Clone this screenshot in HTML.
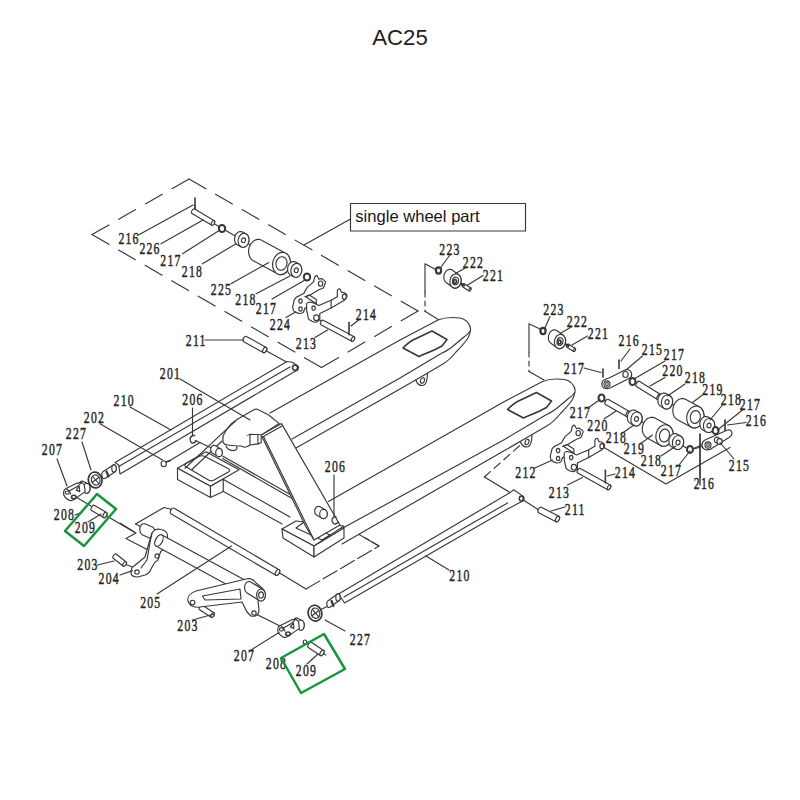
<!DOCTYPE html>
<html><head><meta charset="utf-8"><style>
html,body{margin:0;padding:0;background:#fff;width:800px;height:800px;overflow:hidden}
svg{display:block}
.d path,.d ellipse,.d circle,.d rect{stroke:#383838;stroke-width:1.15;fill:none;stroke-linejoin:round;stroke-linecap:round}
.d text{font-family:"Liberation Serif",serif;font-size:16.3px;fill:#262626;stroke:#262626;stroke-width:0.45}
</style></head><body>
<svg width="800" height="800" viewBox="0 0 800 800">
<rect width="800" height="800" fill="#fff"/>
<text x="400" y="44.6" text-anchor="middle" font-family="'Liberation Sans', sans-serif" font-size="22.2" fill="#1e1e1e">AC25</text>
<g class="d">
<path d="M92,234.6 L189,179" style="stroke-dasharray:19.5 11.27;"/>
<path d="M92,234.6 L321.5,367.5" style="stroke-dasharray:19.5 11.2;"/>
<path d="M189,179 L418,311" style="stroke-dasharray:19.5 11.1;"/>
<path d="M418,311 L321.5,367.5" style="stroke-dasharray:19.5 11.27;"/>
<path d="M304,245 L350.5,219"/>
<rect x="350.5" y="203.5" width="175" height="27.5" stroke-width="1.25"/>
<text x="355.3" y="222.4" textLength="124.4" lengthAdjust="spacingAndGlyphs" style="font-family:'Liberation Sans',sans-serif;font-size:16.5px;fill:#161616;stroke:none">single wheel part</text>
<path d="M437.5,270.5 L425,263.75 L425,292"/>
<path d="M425,292 L425,311.25" style="stroke-dasharray:5 4;"/>
<path d="M425,311.25 L439,320"/>
<path d="M542,330 L529,323.75 L529,352"/>
<path d="M529,352 L529,371.5" style="stroke-dasharray:5 4;"/>
<path d="M529,371.5 L544,380"/>
<path d="M213,223 L300,274"/>
<path d="M195,211 L195,205"/>
<path d="M316,318 L353,339"/>
<path d="M604,384 L627,374"/>
<path d="M632.5,381.5 L700,420"/>
<path d="M601.5,398 L690,450 L727,434"/>
<path d="M690,450 L708,445"/>
<path d="M135.5,524 L164,507.5 L172,509.5"/>
<path d="M135.5,524 L141.5,527"/>
<path d="M126,538.5 L136,533 L120,523"/>
<path d="M126,538.5 L150,551"/>
<path d="M278,572 L306,589"/>
<path d="M306,589 L379,546" style="stroke-dasharray:16 4;"/>
<path d="M379,546 L344,526" style="stroke-dasharray:16 4;"/>
<path d="M76,497 L91,506"/>
<path d="M105,515 L134,532"/>
<path d="M254,613 L280,626"/>
<path d="M322,653 L326,655"/>
<path d="M329,605.5 L320,610"/>
<path d="M124.6,564 L132.5,567"/>
<path d="M212.5,615 L214,616"/>
<path d="M170,460.5 L200,442.5"/>
<path d="M195.5,440.5 L219.5,451.75"/>
<path d="M334,520 L379,546" style="stroke-dasharray:7 4;"/>
<path d="M264.7,350 L292,365"/>
<path d="M523.4,500 L540,510.75"/>
<path d="M517,496.75 L484.4,477"/>
<path d="M484.4,477 L526,440" style="stroke-dasharray:8 5;"/>
<path d="M222.5,456 L300,500"/>
<path d="M222.5,458.5 L300,503"/>
<path d="M519.5,431.5 C518.5,442.5 522.5,447.0 526.5,447.0 C530.5,447.0 532.5,442.5 532.0,427.5" style="fill:#fff;"/>
<ellipse cx="527.0" cy="442.0" rx="1.9" ry="2.8" style="fill:none;" transform="rotate(20 527.0 442.0)"/>
<path d="M328.5,501.5 L504.5,401.5 L542.5,381.5 C548.5,379.0 556.5,378.5 564.5,379.5 C569.5,380.5 573.5,383.5 575.0,389.5 L575.0,391.5 C574.5,395.5 573.5,397.5 572.5,399.5 C568.5,405.5 564.5,409.5 560.5,413.5 C556.5,418.5 552.5,422.5 547.5,425.5 L530.5,435.5 L504.5,450.5 L342,544 L342,528.5 Z" style="fill:#fff;stroke:none"/>
<path d="M328.5,501.5 L504.5,401.5 L542.5,381.5 C548.5,379.0 556.5,378.5 564.5,379.5 C569.5,380.5 573.5,383.5 575.0,389.5 L575.0,391.5 C574.5,395.5 573.5,397.5 572.5,399.5 C568.5,405.5 564.5,409.5 560.5,413.5 C556.5,418.5 552.5,422.5 547.5,425.5 L530.5,435.5 L504.5,450.5 L342,544" style="fill:none;"/>
<path d="M574.8,392.5 C572.5,395.5 570.5,397.5 568.5,398.5 L556.5,408.5 C552.5,411.5 549.5,413.5 546.5,414.5 L504.5,439.5 L342,528.5" style="fill:none;"/>
<path d="M507.5,409.5 C510.5,406.5 513.5,403.5 517.5,401.5 L536.5,392.5 L551.5,401.0 L546.5,407.5 C539.5,411.5 531.5,414.5 523.5,418.0 Z" style="fill:none;stroke-width:1.6;"/>
<path d="M415.0,370.0 C414.0,381.0 418.0,385.5 422.0,385.5 C426.0,385.5 428.0,381.0 427.5,366.0" style="fill:#fff;"/>
<ellipse cx="422.5" cy="380.5" rx="1.9" ry="2.8" style="fill:none;" transform="rotate(20 422.5 380.5)"/>
<path d="M270,413 L400.0,340.0 L438.0,320.0 C444.0,317.5 452.0,317.0 460.0,318.0 C465.0,319.0 469.0,322.0 470.5,328.0 L470.5,330.0 C470.0,334.0 469.0,336.0 468.0,338.0 C464.0,344.0 460.0,348.0 456.0,352.0 C452.0,357.0 448.0,361.0 443.0,364.0 L426.0,374.0 L400.0,389.0 L296,448 L292,439 Z" style="fill:#fff;stroke:none"/>
<path d="M270,413 L400.0,340.0 L438.0,320.0 C444.0,317.5 452.0,317.0 460.0,318.0 C465.0,319.0 469.0,322.0 470.5,328.0 L470.5,330.0 C470.0,334.0 469.0,336.0 468.0,338.0 C464.0,344.0 460.0,348.0 456.0,352.0 C452.0,357.0 448.0,361.0 443.0,364.0 L426.0,374.0 L400.0,389.0 L296,448" style="fill:none;"/>
<path d="M470.3,331.0 C468.0,334.0 466.0,336.0 464.0,337.0 L452.0,347.0 C448.0,350.0 445.0,352.0 442.0,353.0 L400.0,378.0 L292,439" style="fill:none;"/>
<path d="M403.0,348.0 C406.0,345.0 409.0,342.0 413.0,340.0 L432.0,331.0 L447.0,339.5 L442.0,346.0 C435.0,350.0 427.0,353.0 419.0,356.5 Z" style="fill:none;stroke-width:1.6;"/>
<path d="M177.5,468.25 L206,451.75 L239,469.75 L210.5,486.25Z" style="fill:#fff;"/>
<path d="M177.5,468.25 L210.5,486.25 L210.5,497.5 L177.5,479.5Z" style="fill:#fff;"/>
<path d="M210.5,486.25 L223.25,479 L223.25,491.5 L210.5,497.5Z" style="fill:#fff;"/>
<path d="M185.5,466.5 C184,465.5 184.5,464.5 186,463.5 L199,456.5 C201,455.5 203,455.5 205,456.5 L228,468.5 C230,469.5 230,471 228.5,472 L214,480 C212,481 210,481 208.5,480 Z" style="fill:none;"/>
<path d="M223.5,479.5 L290,517"/>
<path d="M223.5,491.5 L282,524"/>
<path d="M282,529 L296,521 L344,526 L314,546Z" style="fill:#fff;"/>
<path d="M282,529 L314,546 L314,557 L283,538Z" style="fill:#fff;"/>
<path d="M314,546 L344,528 L344,538 L314,557Z" style="fill:#fff;"/>
<path d="M296,528 L304,522 L330,535 L322,540 Z" style="fill:none;"/>
<path d="M261.2,434.9 L281.5,423.6 L340,525 L314,540 L306,527Z" style="fill:#fff;"/>
<path d="M263.5,436.5 L314,540"/>
<path d="M262.5,437 L282.5,425.8"/>
<path d="M223,436 C226,430 230,424 235.4,420.8 L238.7,418.6 L253.4,410 C255,409 257,409 258,409.6 L269,415.2 L279.2,423.6 L261.2,434.9 L250,434.3 C246,436 244,438 242,439.4 C239,441 236,441.6 233,441.6 C229,441 225,439 223,437 Z" style="fill:#fff;"/>
<path d="M223,437 L223,442.7 C224,444 226,445 227.5,445 L237.6,446 L241,446 L244.4,447.2 C247,447 249,446 250,445 L257.9,443.9 L261.2,442.7 L261.2,434.9" style="fill:#fff;"/>
<path d="M250,434.3 L250,444.4"/>
<path d="M257.9,434.3 L257.9,444"/>
<path d="M226,446 C227,449 230,450.6 234,450.6 C237,450 237.5,448 236.5,447" style="fill:#fff;"/>
<path d="M185,468.25 L221.9,433.7"/>
<path d="M191.75,469.75 L222,441"/>
<path d="M221.9,433.7 L235.4,421"/>
<path d="M210.7,449.5 L210.7,449.1 L210.8,448.8 L210.8,448.4 L210.9,448.1 L211.0,447.7 L211.1,447.4 L211.3,447.1 L211.5,446.8 L211.7,446.5 L211.9,446.3 L212.1,446.1 L212.3,445.9 L212.6,445.7 L212.9,445.6 L213.2,445.4 L213.4,445.4 L213.7,445.3 L214.0,445.3 L214.3,445.3 L214.6,445.4 L214.8,445.4 L215.1,445.6 L215.4,445.7 L220.4,448.7 L220.7,448.9 L220.9,449.1 L221.1,449.3 L221.3,449.5 L221.5,449.8 L221.7,450.1 L221.9,450.4 L222.0,450.7 L222.1,451.1 L222.2,451.4 L222.2,451.8 L222.3,452.1 L222.3,452.5 L222.3,452.9 L222.2,453.2 L222.2,453.6 L222.1,453.9 L222.0,454.3 L221.9,454.6 L221.7,454.9 L221.5,455.2 L221.3,455.5 L221.1,455.7 L220.9,455.9 L220.7,456.1 L220.4,456.3 L220.1,456.4 L219.8,456.6 L219.6,456.6 L219.3,456.7 L219.0,456.7 L218.7,456.7 L218.4,456.6 L218.2,456.6 L217.9,456.4 L217.6,456.3 L212.6,453.3 L212.3,453.1 L212.1,452.9 L211.9,452.7 L211.7,452.5 L211.5,452.2 L211.3,451.9 L211.1,451.6 L211.0,451.3 L210.9,450.9 L210.8,450.6 L210.8,450.2 L210.7,449.9Z" style="fill:#fff;"/>
<ellipse cx="219" cy="452.5" rx="3.3" ry="4.2" style="fill:#fff;"/>
<path d="M314.7,511.0 L314.7,510.6 L314.8,510.2 L314.8,509.8 L314.9,509.4 L315.1,509.1 L315.2,508.7 L315.4,508.4 L315.6,508.0 L315.8,507.8 L316.1,507.5 L316.3,507.2 L316.6,507.0 L316.9,506.8 L317.2,506.7 L317.5,506.6 L317.8,506.5 L318.2,506.4 L318.5,506.4 L318.8,506.4 L319.2,506.5 L319.5,506.6 L319.8,506.7 L320.1,506.8 L325.1,509.8 L325.4,510.0 L325.7,510.2 L325.9,510.5 L326.2,510.8 L326.4,511.0 L326.6,511.4 L326.8,511.7 L326.9,512.1 L327.1,512.4 L327.2,512.8 L327.2,513.2 L327.3,513.6 L327.3,514.0 L327.3,514.4 L327.2,514.8 L327.2,515.2 L327.1,515.6 L326.9,515.9 L326.8,516.3 L326.6,516.6 L326.4,517.0 L326.2,517.2 L325.9,517.5 L325.7,517.8 L325.4,518.0 L325.1,518.2 L324.8,518.3 L324.5,518.4 L324.2,518.5 L323.8,518.6 L323.5,518.6 L323.2,518.6 L322.8,518.5 L322.5,518.4 L322.2,518.3 L321.9,518.2 L316.9,515.2 L316.6,515.0 L316.3,514.8 L316.1,514.5 L315.8,514.2 L315.6,514.0 L315.4,513.6 L315.2,513.3 L315.1,512.9 L314.9,512.6 L314.8,512.2 L314.8,511.8 L314.7,511.4Z" style="fill:#fff;"/>
<ellipse cx="323.5" cy="514" rx="3.8" ry="4.6" style="fill:#fff;"/>
<path d="M194.5,435.5 C190,435 189,440 191,442 C192,444 195,443 196,441" style="fill:none;stroke-width:1.4;"/>
<path d="M336,517 C332,516 331,521 333,523 C334,525 337,524 338,522" style="fill:none;stroke-width:1.4;"/>
<path d="M115,462.5 L287,361.5 L292.5,362.3 L298.6,366.6 L297.8,370 L294,372 L283.7,378 L120,474 L118.75,465 Z" style="fill:#fff;"/>
<path d="M118.75,466.5 L276,375"/>
<path d="M276,375 L290,367"/>
<ellipse cx="295" cy="367.6" rx="2.5" ry="2.6" style="fill:none;stroke-width:1.5;"/>
<path d="M101.8,475.0 L101.8,474.7 L101.8,474.4 L101.9,474.1 L101.9,473.8 L102.0,473.5 L102.1,473.2 L102.2,472.9 L102.3,472.7 L102.4,472.4 L102.6,472.2 L102.7,472.1 L102.9,471.9 L103.1,471.7 L103.2,471.6 L113.2,465.1 L113.4,465.0 L113.6,464.9 L113.8,464.9 L114.0,464.9 L114.2,464.9 L114.4,464.9 L114.6,465.0 L114.8,465.1 L114.9,465.2 L115.1,465.4 L115.3,465.6 L115.4,465.7 L115.6,465.9 L115.7,466.2 L115.8,466.4 L115.9,466.7 L116.0,467.0 L116.1,467.3 L116.1,467.6 L116.2,467.9 L116.2,468.2 L116.2,468.5 L116.2,468.8 L116.2,469.1 L116.1,469.4 L116.1,469.7 L116.0,470.0 L115.9,470.3 L115.8,470.6 L115.7,470.8 L115.6,471.1 L115.4,471.3 L115.3,471.4 L115.1,471.6 L114.9,471.8 L114.8,471.9 L104.8,478.4 L104.6,478.5 L104.4,478.6 L104.2,478.6 L104.0,478.6 L103.8,478.6 L103.6,478.6 L103.4,478.5 L103.2,478.4 L103.1,478.3 L102.9,478.1 L102.7,477.9 L102.6,477.8 L102.4,477.6 L102.3,477.3 L102.2,477.1 L102.1,476.8 L102.0,476.5 L101.9,476.2 L101.9,475.9 L101.8,475.6 L101.8,475.3Z" style="fill:#fff;"/>
<ellipse cx="114" cy="468.5" rx="2.2" ry="3.6" style="fill:#fff;"/>
<path d="M106.5,471.5 L108.5,476.5" style="fill:none;stroke-width:2.2;"/>
<path d="M338.5,594 L510.25,492.4 L513.75,489.75 L522.5,495.9 C524,500 522,502 520.75,502 L507.6,509 L344.5,603 Z" style="fill:#fff;"/>
<path d="M344,597 L507.6,502.9"/>
<ellipse cx="521.6" cy="498.5" rx="2.3" ry="2.6" style="fill:none;stroke-width:1.5;"/>
<path d="M326.8,604.0 L326.8,603.7 L326.8,603.4 L326.9,603.1 L326.9,602.8 L327.0,602.5 L327.1,602.2 L327.2,601.9 L327.3,601.7 L327.4,601.5 L327.6,601.2 L327.7,601.0 L327.9,600.9 L328.1,600.7 L337.1,594.2 L337.2,594.1 L337.4,594.0 L337.6,594.0 L337.8,593.9 L338.0,593.9 L338.2,593.9 L338.4,594.0 L338.6,594.0 L338.8,594.1 L338.9,594.2 L339.1,594.4 L339.3,594.5 L339.4,594.7 L339.6,595.0 L339.7,595.2 L339.8,595.4 L339.9,595.7 L340.0,596.0 L340.1,596.3 L340.1,596.6 L340.2,596.9 L340.2,597.2 L340.2,597.5 L340.2,597.8 L340.2,598.1 L340.1,598.4 L340.1,598.7 L340.0,599.0 L339.9,599.3 L339.8,599.6 L339.7,599.8 L339.6,600.0 L339.4,600.3 L339.3,600.5 L339.1,600.6 L338.9,600.8 L329.9,607.3 L329.8,607.4 L329.6,607.5 L329.4,607.5 L329.2,607.6 L329.0,607.6 L328.8,607.6 L328.6,607.5 L328.4,607.5 L328.2,607.4 L328.1,607.3 L327.9,607.1 L327.7,607.0 L327.6,606.8 L327.4,606.5 L327.3,606.3 L327.2,606.1 L327.1,605.8 L327.0,605.5 L326.9,605.2 L326.9,604.9 L326.8,604.6 L326.8,604.3Z" style="fill:#fff;"/>
<ellipse cx="338" cy="597.5" rx="2.2" ry="3.6" style="fill:#fff;"/>
<path d="M331.5,601 L333.5,606" style="fill:none;stroke-width:2.2;"/>
<path d="M243.5,341.6 L263.2,352.6 A1.7,3.0 29.2 0 0 266.2,347.4 L246.5,336.4 A1.7,3.0 29.2 0 0 243.5,341.6Z" style="fill:#fff;"/>
<ellipse cx="264.7" cy="350" rx="1.7" ry="3.0" transform="rotate(29.2 264.7 350)" style="fill:#fff;"/>
<path d="M538.6,512.7 L556.1,521.7 A1.7,3.0 27.2 0 0 558.9,516.3 L541.4,507.3 A1.7,3.0 27.2 0 0 538.6,512.7Z" style="fill:#fff;"/>
<ellipse cx="557.5" cy="519" rx="1.7" ry="3.0" transform="rotate(27.2 557.5 519)" style="fill:#fff;"/>
<path d="M170.9,513.8 L275.9,575.3 A1.8,3.2 30.4 0 0 279.1,569.7 L174.1,508.2 A1.8,3.2 30.4 0 0 170.9,513.8Z" style="fill:#fff;"/>
<ellipse cx="277.5" cy="572.5" rx="1.8" ry="3.2" transform="rotate(30.4 277.5 572.5)" style="fill:#fff;"/>
<path d="M139.8,529.5 L139.8,529.0 L139.9,528.5 L139.9,528.0 L140.1,527.5 L140.2,527.0 L140.4,526.6 L140.6,526.2 L140.8,525.8 L141.0,525.4 L141.3,525.1 L141.6,524.8 L141.9,524.5 L142.2,524.2 L142.6,524.0 L142.9,523.9 L143.3,523.8 L143.6,523.7 L144.0,523.7 L144.4,523.7 L144.7,523.8 L145.1,523.9 L145.4,524.0 L152.4,527.0 L152.8,527.2 L153.1,527.5 L153.4,527.8 L153.7,528.1 L154.0,528.4 L154.2,528.8 L154.4,529.2 L154.6,529.6 L154.8,530.0 L154.9,530.5 L155.1,531.0 L155.1,531.5 L155.2,532.0 L155.2,532.5 L155.2,533.0 L155.1,533.5 L155.1,534.0 L154.9,534.5 L154.8,535.0 L154.6,535.4 L154.4,535.8 L154.2,536.2 L154.0,536.6 L153.7,536.9 L153.4,537.2 L153.1,537.5 L152.8,537.8 L152.4,538.0 L152.1,538.1 L151.7,538.2 L151.4,538.3 L151.0,538.3 L150.6,538.3 L150.3,538.2 L149.9,538.1 L149.6,538.0 L142.6,535.0 L142.2,534.8 L141.9,534.5 L141.6,534.2 L141.3,533.9 L141.0,533.6 L140.8,533.2 L140.6,532.8 L140.4,532.4 L140.2,532.0 L140.1,531.5 L139.9,531.0 L139.9,530.5 L139.8,530.0Z" style="fill:#fff;"/>
<path d="M195,198 L195,210" style="stroke-width:1.6;"/>
<path d="M191.7,213.2 L211.7,225.2 A1.4,2.6 31.0 0 0 214.3,220.8 L194.3,208.8 A1.4,2.6 31.0 0 0 191.7,213.2Z" style="fill:#fff;"/>
<ellipse cx="213" cy="223" rx="1.4" ry="2.6" transform="rotate(31.0 213 223)" style="fill:#fff;"/>
<ellipse cx="222" cy="228.5" rx="3.2" ry="3.6" style="fill:#fff;stroke-width:2.0;"/>
<path d="M234.6,238.8 L234.6,238.2 L234.7,237.6 L234.8,237.0 L235.0,236.4 L235.2,235.8 L235.4,235.3 L235.7,234.7 L236.0,234.2 L236.3,233.8 L236.7,233.3 L237.1,233.0 L237.5,232.6 L237.9,232.3 L238.4,232.1 L238.8,231.9 L239.3,231.7 L239.8,231.6 L240.3,231.6 L240.8,231.6 L241.2,231.6 L241.7,231.7 L242.1,231.9 L242.6,232.1 L246.1,233.9 L246.5,234.1 L246.8,234.4 L247.2,234.8 L247.6,235.2 L247.8,235.6 L248.1,236.1 L248.4,236.6 L248.6,237.1 L248.7,237.7 L248.8,238.2 L248.9,238.8 L248.9,239.4 L248.9,240.0 L248.9,240.6 L248.8,241.2 L248.7,241.8 L248.5,242.4 L248.3,243.0 L248.1,243.5 L247.8,244.1 L247.5,244.6 L247.2,245.0 L246.8,245.4 L246.4,245.8 L246.0,246.2 L245.6,246.5 L245.1,246.7 L244.7,246.9 L244.2,247.1 L243.7,247.2 L243.2,247.2 L242.8,247.2 L242.3,247.2 L241.8,247.1 L241.4,246.9 L240.9,246.7 L237.4,244.9 L237.0,244.7 L236.7,244.3 L236.3,244.0 L235.9,243.6 L235.7,243.2 L235.4,242.7 L235.1,242.2 L234.9,241.7 L234.8,241.1 L234.7,240.6 L234.6,240.0 L234.6,239.4Z" style="fill:#fff;"/>
<ellipse cx="243.5" cy="240.3" rx="5.4" ry="7" style="fill:#fff;" transform="rotate(10 243.5 240.3)"/>
<ellipse cx="243.5" cy="240.3" rx="2" ry="2.4" style="fill:none;" transform="rotate(10 243.5 240.3)"/>
<path d="M248.6,251.6 L248.6,250.6 L248.7,249.6 L248.9,248.7 L249.1,247.7 L249.4,246.8 L249.8,245.9 L250.2,245.0 L250.7,244.2 L251.2,243.4 L251.8,242.7 L252.4,242.1 L253.1,241.5 L253.8,240.9 L254.5,240.5 L255.2,240.1 L256.0,239.8 L256.7,239.6 L257.5,239.4 L258.3,239.4 L259.1,239.4 L259.8,239.5 L260.6,239.8 L261.3,240.0 L262.0,240.4 L286.0,253.4 L286.6,253.8 L287.2,254.3 L287.8,254.9 L288.3,255.6 L288.8,256.3 L289.2,257.1 L289.6,257.9 L289.9,258.7 L290.1,259.6 L290.3,260.5 L290.4,261.5 L290.4,262.4 L290.4,263.4 L290.3,264.4 L290.1,265.3 L289.9,266.3 L289.6,267.2 L289.2,268.1 L288.8,269.0 L288.3,269.8 L287.8,270.6 L287.2,271.3 L286.6,271.9 L285.9,272.5 L285.2,273.1 L284.5,273.5 L283.8,273.9 L283.0,274.2 L282.3,274.4 L281.5,274.6 L280.7,274.6 L279.9,274.6 L279.2,274.5 L278.4,274.2 L277.7,274.0 L277.0,273.6 L253.0,260.6 L252.4,260.2 L251.8,259.7 L251.2,259.1 L250.7,258.4 L250.2,257.7 L249.8,256.9 L249.4,256.1 L249.1,255.3 L248.9,254.4 L248.7,253.5 L248.6,252.5Z" style="fill:#fff;"/>
<ellipse cx="281.5" cy="263.5" rx="8.8" ry="11.2" style="fill:#fff;" transform="rotate(12 281.5 263.5)"/>
<ellipse cx="281.5" cy="263.5" rx="5.5" ry="6.8" style="fill:none;" transform="rotate(12 281.5 263.5)"/>
<path d="M287.6,268.8 L287.6,268.2 L287.7,267.6 L287.8,267.0 L288.0,266.4 L288.2,265.8 L288.4,265.3 L288.7,264.7 L289.0,264.2 L289.3,263.8 L289.7,263.4 L290.1,263.0 L290.5,262.6 L290.9,262.3 L291.4,262.1 L291.9,261.9 L292.3,261.7 L292.8,261.6 L293.3,261.6 L293.8,261.6 L294.2,261.6 L294.7,261.7 L295.1,261.9 L295.6,262.1 L298.9,263.9 L299.3,264.1 L299.6,264.4 L300.0,264.8 L300.4,265.2 L300.6,265.6 L300.9,266.1 L301.2,266.6 L301.4,267.1 L301.5,267.7 L301.6,268.2 L301.7,268.8 L301.8,269.4 L301.8,270.0 L301.7,270.6 L301.6,271.2 L301.5,271.8 L301.3,272.4 L301.1,273.0 L300.9,273.5 L300.6,274.1 L300.3,274.6 L300.0,275.0 L299.6,275.4 L299.2,275.8 L298.8,276.2 L298.4,276.5 L297.9,276.7 L297.4,276.9 L297.0,277.1 L296.5,277.2 L296.0,277.2 L295.6,277.2 L295.1,277.2 L294.6,277.1 L294.2,276.9 L293.8,276.7 L290.4,274.9 L290.0,274.7 L289.6,274.4 L289.3,274.0 L288.9,273.6 L288.6,273.2 L288.4,272.7 L288.1,272.2 L287.9,271.7 L287.8,271.1 L287.7,270.6 L287.6,270.0 L287.6,269.4Z" style="fill:#fff;"/>
<ellipse cx="296.3" cy="270.3" rx="5.4" ry="7" style="fill:#fff;" transform="rotate(10 296.3 270.3)"/>
<ellipse cx="296.3" cy="270.3" rx="2" ry="2.4" style="fill:none;" transform="rotate(10 296.3 270.3)"/>
<ellipse cx="307" cy="277" rx="3.2" ry="3.6" style="fill:#fff;stroke-width:2.0;"/>
<g transform="translate(-257.6,-149.5)">
<path d="M550.2,456.7 L552,448.9 C553,447 555,446 556.4,445.4 L561.6,442.7 C563,440 564,438 565.1,436.6 L571.2,431.4 L572.1,427 C573,425 574,425 574.7,425.2 L576.5,428.7 C578,428 580,428 580,428.7 C583,430 584,432 582.6,433.1 C582,436 581,437 580.9,437.5 L576.5,439.2 L567.7,444.5 L563.4,446.2 L573.9,453.2 L562.5,457.6 C562,460 561,461.5 560.7,462 C559,463 557,463 556.4,462.9 C553,462 551,460.5 551.1,460.2 Z" style="fill:#fff;"/>
<path d="M564.2,453.2 C565,452 566,451.5 566.9,451.5 L571.2,452.4 L576.5,455 L588.7,449.7 L594.9,446.2 L594.9,440.1 C595.5,438.5 597,438 597.5,438.4 L599.2,441.9 C601,441.5 602,442 602.7,442.7 C604.5,444 605,445 604.5,446.2 C604,448 603,449 601.9,449.7 L588.7,457.6 L577.4,462.9 L577.4,469 C576,471 575,471.6 573.9,471.6 C572,471.6 570.5,471.2 569.5,470.7 C567,469.5 566,468.5 566,468.1 L564.2,459.4 Z" style="fill:#fff;"/>
<path d="M588.7,449.7 L588.7,457.6"/>
<path d="M562.5,446.2 L566.9,444.5 L573.9,449 L573.9,453.2"/>
<ellipse cx="558.1" cy="450.6" rx="1.7" ry="2.2" style="fill:#fff;"/>
<ellipse cx="558.1" cy="458.5" rx="1.7" ry="2.2" style="fill:#fff;"/>
<ellipse cx="571.2" cy="457.6" rx="1.7" ry="2.2" style="fill:#fff;"/>
<ellipse cx="573.9" cy="467.2" rx="2.6" ry="2.8" style="fill:#fff;"/>
<ellipse cx="578.2" cy="433.1" rx="2.2" ry="2.6" style="fill:#fff;"/>
<ellipse cx="601.9" cy="446.2" rx="2" ry="2.6" style="fill:#fff;"/>
</g>
<path d="M320.8,324.8 L351.8,341.3 A1.4,2.6 28.0 0 0 354.2,336.7 L323.2,320.2 A1.4,2.6 28.0 0 0 320.8,324.8Z" style="fill:#fff;"/>
<ellipse cx="353" cy="339" rx="1.4" ry="2.6" transform="rotate(28.0 353 339)" style="fill:#fff;"/>
<path d="M349,322.5 L349,334.7" style="stroke-width:1.6;"/>
<g transform="translate(0,0)">
<ellipse cx="438.5" cy="270.5" rx="2.6" ry="3.1" style="fill:#fff;stroke-width:2.2;"/>
<path d="M443.9,276.8 L443.9,276.1 L444.0,275.5 L444.1,274.9 L444.3,274.3 L444.5,273.7 L444.8,273.2 L445.0,272.6 L445.4,272.1 L445.7,271.6 L446.1,271.2 L446.5,270.8 L446.9,270.4 L447.4,270.1 L447.8,269.9 L448.3,269.7 L448.8,269.5 L449.3,269.4 L449.8,269.4 L450.3,269.4 L450.8,269.4 L451.2,269.5 L451.7,269.7 L452.1,269.9 L452.6,270.2 L458.6,274.7 L459.0,275.0 L459.3,275.4 L459.7,275.8 L460.0,276.2 L460.3,276.7 L460.5,277.2 L460.7,277.7 L460.9,278.3 L461.0,278.9 L461.1,279.5 L461.1,280.1 L461.1,280.7 L461.1,281.4 L461.0,282.0 L460.9,282.6 L460.7,283.2 L460.5,283.8 L460.2,284.3 L460.0,284.9 L459.6,285.4 L459.3,285.9 L458.9,286.3 L458.5,286.7 L458.1,287.1 L457.6,287.4 L457.2,287.6 L456.7,287.8 L456.2,288.0 L455.7,288.1 L455.2,288.1 L454.7,288.1 L454.2,288.1 L453.8,288.0 L453.3,287.8 L452.9,287.6 L452.4,287.3 L446.4,282.8 L446.0,282.5 L445.7,282.1 L445.3,281.8 L445.0,281.3 L444.7,280.8 L444.5,280.3 L444.3,279.8 L444.1,279.2 L444.0,278.6 L443.9,278.0 L443.9,277.4Z" style="fill:#fff;"/>
<ellipse cx="455.5" cy="281" rx="5.6" ry="7.2" style="fill:#fff;" transform="rotate(10 455.5 281)"/>
<ellipse cx="455.5" cy="281" rx="3" ry="3.8" style="fill:none;" transform="rotate(10 455.5 281)"/>
<ellipse cx="455" cy="281.5" rx="1.5" ry="1.9" style="fill:#fff;stroke-width:1.8;"/>
<path d="M462.1,286.4 L469.1,290.9 A0.9,1.7 32.7 0 0 470.9,288.1 L463.9,283.6 A0.9,1.7 32.7 0 0 462.1,286.4Z" style="fill:#fff;"/>
<ellipse cx="470" cy="289.5" rx="0.9" ry="1.7" transform="rotate(32.7 470 289.5)" style="fill:#fff;"/>
<path d="M461.5,284 L464,285.5" style="stroke-width:2.4;"/>
</g>
<g transform="translate(104.5,60.5)">
<ellipse cx="438.5" cy="270.5" rx="2.6" ry="3.1" style="fill:#fff;stroke-width:2.2;"/>
<path d="M443.9,276.8 L443.9,276.1 L444.0,275.5 L444.1,274.9 L444.3,274.3 L444.5,273.7 L444.8,273.2 L445.0,272.6 L445.4,272.1 L445.7,271.6 L446.1,271.2 L446.5,270.8 L446.9,270.4 L447.4,270.1 L447.8,269.9 L448.3,269.7 L448.8,269.5 L449.3,269.4 L449.8,269.4 L450.3,269.4 L450.8,269.4 L451.2,269.5 L451.7,269.7 L452.1,269.9 L452.6,270.2 L458.6,274.7 L459.0,275.0 L459.3,275.4 L459.7,275.8 L460.0,276.2 L460.3,276.7 L460.5,277.2 L460.7,277.7 L460.9,278.3 L461.0,278.9 L461.1,279.5 L461.1,280.1 L461.1,280.7 L461.1,281.4 L461.0,282.0 L460.9,282.6 L460.7,283.2 L460.5,283.8 L460.2,284.3 L460.0,284.9 L459.6,285.4 L459.3,285.9 L458.9,286.3 L458.5,286.7 L458.1,287.1 L457.6,287.4 L457.2,287.6 L456.7,287.8 L456.2,288.0 L455.7,288.1 L455.2,288.1 L454.7,288.1 L454.2,288.1 L453.8,288.0 L453.3,287.8 L452.9,287.6 L452.4,287.3 L446.4,282.8 L446.0,282.5 L445.7,282.1 L445.3,281.8 L445.0,281.3 L444.7,280.8 L444.5,280.3 L444.3,279.8 L444.1,279.2 L444.0,278.6 L443.9,278.0 L443.9,277.4Z" style="fill:#fff;"/>
<ellipse cx="455.5" cy="281" rx="5.6" ry="7.2" style="fill:#fff;" transform="rotate(10 455.5 281)"/>
<ellipse cx="455.5" cy="281" rx="3" ry="3.8" style="fill:none;" transform="rotate(10 455.5 281)"/>
<ellipse cx="455" cy="281.5" rx="1.5" ry="1.9" style="fill:#fff;stroke-width:1.8;"/>
<path d="M462.1,286.4 L469.1,290.9 A0.9,1.7 32.7 0 0 470.9,288.1 L463.9,283.6 A0.9,1.7 32.7 0 0 462.1,286.4Z" style="fill:#fff;"/>
<ellipse cx="470" cy="289.5" rx="0.9" ry="1.7" transform="rotate(32.7 470 289.5)" style="fill:#fff;"/>
<path d="M461.5,284 L464,285.5" style="stroke-width:2.4;"/>
</g>
<path d="M619,360 L619,368.5" style="stroke-width:1.6;"/>
<path d="M603,369 L603,377" style="stroke-width:1.6;"/>
<path d="M609,378 L625,370 C630,368 633,373 631,377 L628,379 L610,388 C605,390 601,387 602,383 C602,380 605,379 609,378 Z" style="fill:#fff;"/>
<ellipse cx="607" cy="384" rx="3" ry="3.2" style="fill:#fff;"/>
<ellipse cx="625.5" cy="374.5" rx="2.6" ry="3" style="fill:#fff;"/>
<ellipse cx="607" cy="384" rx="1.3" ry="1.5" style="fill:#fff;"/>
<ellipse cx="632.5" cy="381.5" rx="3" ry="3.5" style="fill:#fff;stroke-width:2.0;"/>
<path d="M636.4,386.6 L657.4,399.6 A1.7,3.0 31.8 0 0 660.6,394.4 L639.6,381.4 A1.7,3.0 31.8 0 0 636.4,386.6Z" style="fill:#fff;"/>
<ellipse cx="659" cy="397" rx="1.7" ry="3.0" transform="rotate(31.8 659 397)" style="fill:#fff;"/>
<path d="M657.9,400.2 L657.9,399.6 L658.0,399.0 L658.1,398.4 L658.3,397.9 L658.5,397.3 L658.7,396.7 L659.0,396.2 L659.3,395.7 L659.7,395.2 L660.1,394.8 L660.5,394.4 L660.9,394.1 L661.3,393.8 L661.8,393.5 L662.3,393.3 L662.8,393.2 L663.2,393.1 L663.7,393.0 L664.2,393.1 L664.7,393.1 L665.2,393.2 L665.6,393.4 L666.1,393.6 L669.6,395.6 L670.0,395.9 L670.4,396.2 L670.8,396.5 L671.2,396.9 L671.5,397.3 L671.8,397.8 L672.0,398.3 L672.2,398.8 L672.4,399.4 L672.5,400.0 L672.6,400.6 L672.6,401.2 L672.6,401.8 L672.6,402.4 L672.5,403.0 L672.4,403.6 L672.2,404.1 L672.0,404.7 L671.8,405.3 L671.5,405.8 L671.2,406.3 L670.8,406.8 L670.4,407.2 L670.0,407.6 L669.6,407.9 L669.2,408.2 L668.7,408.5 L668.2,408.7 L667.7,408.8 L667.2,408.9 L666.8,409.0 L666.3,408.9 L665.8,408.9 L665.3,408.8 L664.9,408.6 L664.4,408.4 L660.9,406.4 L660.5,406.1 L660.1,405.8 L659.7,405.5 L659.3,405.1 L659.0,404.7 L658.7,404.2 L658.5,403.7 L658.3,403.2 L658.1,402.6 L658.0,402.0 L657.9,401.4 L657.9,400.8Z" style="fill:#fff;"/>
<ellipse cx="667" cy="402" rx="5.6" ry="7" style="fill:#fff;" transform="rotate(10 667 402)"/>
<ellipse cx="667" cy="402" rx="2" ry="2.4" style="fill:none;" transform="rotate(10 667 402)"/>
<path d="M672.8,410.6 L672.8,409.6 L672.9,408.7 L673.1,407.7 L673.3,406.8 L673.6,405.9 L674.0,405.0 L674.4,404.1 L674.8,403.3 L675.4,402.6 L675.9,401.9 L676.5,401.2 L677.2,400.6 L677.8,400.1 L678.5,399.7 L679.3,399.3 L680.0,399.0 L680.8,398.8 L681.5,398.6 L682.3,398.6 L683.0,398.6 L683.8,398.7 L684.5,398.9 L685.2,399.2 L685.9,399.6 L699.7,407.1 L700.3,407.5 L700.9,408.0 L701.5,408.6 L702.0,409.2 L702.5,409.9 L702.9,410.7 L703.2,411.4 L703.5,412.3 L703.7,413.2 L703.9,414.1 L704.0,415.0 L704.0,415.9 L704.0,416.9 L703.9,417.8 L703.7,418.8 L703.5,419.7 L703.2,420.6 L702.8,421.5 L702.4,422.4 L702.0,423.2 L701.4,423.9 L700.9,424.6 L700.3,425.3 L699.6,425.9 L699.0,426.4 L698.2,426.8 L697.5,427.2 L696.8,427.5 L696.0,427.7 L695.3,427.9 L694.5,427.9 L693.8,427.9 L693.0,427.8 L692.3,427.6 L691.6,427.3 L690.9,426.9 L677.1,419.4 L676.5,419.0 L675.9,418.5 L675.3,417.9 L674.8,417.3 L674.3,416.6 L673.9,415.8 L673.6,415.1 L673.3,414.2 L673.1,413.3 L672.9,412.4 L672.8,411.5Z" style="fill:#fff;"/>
<ellipse cx="695.3" cy="417" rx="8.6" ry="11" style="fill:#fff;" transform="rotate(12 695.3 417)"/>
<ellipse cx="695.3" cy="417" rx="5" ry="6.5" style="fill:none;" transform="rotate(12 695.3 417)"/>
<path d="M699.9,423.7 L699.9,423.1 L700.0,422.5 L700.1,421.9 L700.3,421.4 L700.5,420.8 L700.7,420.2 L701.0,419.7 L701.3,419.2 L701.7,418.8 L702.1,418.3 L702.5,417.9 L702.9,417.6 L703.3,417.3 L703.8,417.0 L704.3,416.8 L704.8,416.7 L705.2,416.6 L705.7,416.5 L706.2,416.6 L706.7,416.6 L707.2,416.7 L707.6,416.9 L708.1,417.1 L711.6,419.1 L712.0,419.4 L712.4,419.7 L712.8,420.0 L713.2,420.4 L713.5,420.8 L713.8,421.3 L714.0,421.8 L714.2,422.3 L714.4,422.9 L714.5,423.5 L714.6,424.1 L714.6,424.7 L714.6,425.3 L714.6,425.9 L714.5,426.5 L714.4,427.1 L714.2,427.6 L714.0,428.2 L713.8,428.8 L713.5,429.3 L713.2,429.8 L712.8,430.2 L712.4,430.7 L712.0,431.1 L711.6,431.4 L711.2,431.7 L710.7,432.0 L710.2,432.2 L709.7,432.3 L709.2,432.4 L708.8,432.5 L708.3,432.4 L707.8,432.4 L707.3,432.3 L706.9,432.1 L706.4,431.9 L702.9,429.9 L702.5,429.6 L702.1,429.3 L701.7,429.0 L701.3,428.6 L701.0,428.2 L700.7,427.7 L700.5,427.2 L700.3,426.7 L700.1,426.1 L700.0,425.5 L699.9,424.9 L699.9,424.3Z" style="fill:#fff;"/>
<ellipse cx="709" cy="425.5" rx="5.6" ry="7" style="fill:#fff;" transform="rotate(10 709 425.5)"/>
<ellipse cx="709" cy="425.5" rx="2" ry="2.4" style="fill:none;" transform="rotate(10 709 425.5)"/>
<ellipse cx="715.6" cy="430.6" rx="3" ry="3.5" style="fill:#fff;stroke-width:2.0;"/>
<path d="M725,420 L725,432.5" style="stroke-width:1.6;"/>
<ellipse cx="601.5" cy="398" rx="3" ry="3.5" style="fill:#fff;stroke-width:2.0;"/>
<path d="M605.5,404.6 L626.5,416.6 A1.7,3.0 29.7 0 0 629.5,411.4 L608.5,399.4 A1.7,3.0 29.7 0 0 605.5,404.6Z" style="fill:#fff;"/>
<ellipse cx="628" cy="414" rx="1.7" ry="3.0" transform="rotate(29.7 628 414)" style="fill:#fff;"/>
<path d="M627.4,417.2 L627.4,416.6 L627.5,416.0 L627.6,415.4 L627.8,414.9 L628.0,414.3 L628.2,413.7 L628.5,413.2 L628.8,412.7 L629.2,412.2 L629.6,411.8 L630.0,411.4 L630.4,411.1 L630.8,410.8 L631.3,410.5 L631.8,410.3 L632.3,410.2 L632.8,410.1 L633.2,410.0 L633.7,410.1 L634.2,410.1 L634.7,410.2 L635.1,410.4 L635.6,410.6 L639.1,412.6 L639.5,412.9 L639.9,413.2 L640.3,413.5 L640.7,413.9 L641.0,414.3 L641.3,414.8 L641.5,415.3 L641.7,415.8 L641.9,416.4 L642.0,417.0 L642.1,417.6 L642.1,418.2 L642.1,418.8 L642.1,419.4 L642.0,420.0 L641.9,420.6 L641.7,421.1 L641.5,421.7 L641.3,422.3 L641.0,422.8 L640.7,423.3 L640.3,423.8 L639.9,424.2 L639.5,424.6 L639.1,424.9 L638.7,425.2 L638.2,425.5 L637.7,425.7 L637.2,425.8 L636.8,425.9 L636.3,426.0 L635.8,425.9 L635.3,425.9 L634.8,425.8 L634.4,425.6 L633.9,425.4 L630.4,423.4 L630.0,423.1 L629.6,422.8 L629.2,422.5 L628.8,422.1 L628.5,421.7 L628.2,421.2 L628.0,420.7 L627.8,420.2 L627.6,419.6 L627.5,419.0 L627.4,418.4 L627.4,417.8Z" style="fill:#fff;"/>
<ellipse cx="636.5" cy="419" rx="5.6" ry="7" style="fill:#fff;" transform="rotate(10 636.5 419)"/>
<ellipse cx="636.5" cy="419" rx="2" ry="2.4" style="fill:none;" transform="rotate(10 636.5 419)"/>
<path d="M642.3,429.0 L642.3,428.1 L642.4,427.1 L642.6,426.2 L642.8,425.3 L643.1,424.4 L643.5,423.5 L643.9,422.7 L644.3,421.9 L644.8,421.2 L645.4,420.5 L646.0,419.8 L646.6,419.3 L647.3,418.8 L648.0,418.3 L648.7,418.0 L649.5,417.7 L650.2,417.5 L651.0,417.3 L651.8,417.3 L652.5,417.3 L653.2,417.4 L654.0,417.6 L654.7,417.9 L655.4,418.3 L668.9,425.8 L669.5,426.2 L670.1,426.7 L670.6,427.2 L671.2,427.9 L671.6,428.6 L672.0,429.3 L672.4,430.1 L672.7,430.9 L672.9,431.8 L673.1,432.7 L673.2,433.6 L673.2,434.5 L673.2,435.4 L673.1,436.4 L672.9,437.3 L672.7,438.2 L672.4,439.1 L672.0,440.0 L671.6,440.8 L671.2,441.6 L670.7,442.3 L670.1,443.0 L669.5,443.7 L668.9,444.2 L668.2,444.7 L667.5,445.2 L666.8,445.5 L666.0,445.8 L665.3,446.0 L664.5,446.2 L663.8,446.2 L663.0,446.2 L662.2,446.1 L661.5,445.9 L660.8,445.6 L660.1,445.2 L646.6,437.7 L646.0,437.3 L645.4,436.8 L644.9,436.2 L644.3,435.6 L643.9,434.9 L643.5,434.2 L643.1,433.4 L642.8,432.6 L642.6,431.7 L642.4,430.8 L642.3,429.9Z" style="fill:#fff;"/>
<ellipse cx="664.5" cy="435.5" rx="8.6" ry="10.8" style="fill:#fff;" transform="rotate(12 664.5 435.5)"/>
<ellipse cx="664.5" cy="435.5" rx="5" ry="6.5" style="fill:none;" transform="rotate(12 664.5 435.5)"/>
<path d="M668.9,440.7 L668.9,440.1 L669.0,439.5 L669.1,438.9 L669.3,438.4 L669.5,437.8 L669.7,437.2 L670.0,436.7 L670.3,436.2 L670.7,435.8 L671.1,435.3 L671.5,434.9 L671.9,434.6 L672.3,434.3 L672.8,434.0 L673.3,433.8 L673.8,433.7 L674.2,433.6 L674.7,433.5 L675.2,433.6 L675.7,433.6 L676.2,433.7 L676.6,433.9 L677.1,434.1 L680.6,436.1 L681.0,436.4 L681.4,436.7 L681.8,437.0 L682.2,437.4 L682.5,437.8 L682.8,438.3 L683.0,438.8 L683.2,439.3 L683.4,439.9 L683.5,440.5 L683.6,441.1 L683.6,441.7 L683.6,442.3 L683.6,442.9 L683.5,443.5 L683.4,444.1 L683.2,444.6 L683.0,445.2 L682.8,445.8 L682.5,446.3 L682.2,446.8 L681.8,447.2 L681.4,447.7 L681.0,448.1 L680.6,448.4 L680.2,448.7 L679.7,449.0 L679.2,449.2 L678.7,449.3 L678.2,449.4 L677.8,449.5 L677.3,449.4 L676.8,449.4 L676.3,449.3 L675.9,449.1 L675.4,448.9 L671.9,446.9 L671.5,446.6 L671.1,446.3 L670.7,446.0 L670.3,445.6 L670.0,445.2 L669.7,444.7 L669.5,444.2 L669.3,443.7 L669.1,443.1 L669.0,442.5 L668.9,441.9 L668.9,441.3Z" style="fill:#fff;"/>
<ellipse cx="678" cy="442.5" rx="5.6" ry="7" style="fill:#fff;" transform="rotate(10 678 442.5)"/>
<ellipse cx="678" cy="442.5" rx="2" ry="2.4" style="fill:none;" transform="rotate(10 678 442.5)"/>
<ellipse cx="690" cy="449.4" rx="3" ry="3.5" style="fill:#fff;stroke-width:2.0;"/>
<path d="M700,434 L700,485" style="stroke-width:1.4;"/>
<path d="M705,440 L727.5,430 C732,429 734,434 729,437.5 L710,449.4 C705,451 702,448 702,445 C702,442 703,441 705,440 Z" style="fill:#fff;"/>
<ellipse cx="708" cy="445" rx="3" ry="3.2" style="fill:#fff;"/>
<ellipse cx="708" cy="445" rx="1.3" ry="1.5" style="fill:#fff;"/>
<path d="M714.4,440.0 L714.4,439.8 L714.4,439.5 L714.5,439.2 L714.6,439.0 L714.6,438.8 L714.8,438.6 L714.9,438.3 L715.0,438.1 L715.2,437.9 L715.3,437.8 L715.5,437.6 L715.7,437.5 L715.9,437.4 L716.1,437.3 L716.3,437.2 L716.5,437.1 L716.8,437.1 L717.0,437.1 L717.2,437.1 L717.5,437.1 L717.7,437.2 L717.9,437.3 L718.1,437.4 L720.6,438.9 L720.8,439.0 L721.0,439.1 L721.2,439.3 L721.3,439.4 L721.5,439.6 L721.6,439.8 L721.8,440.1 L721.9,440.3 L721.9,440.5 L722.0,440.8 L722.1,441.0 L722.1,441.2 L722.1,441.5 L722.1,441.8 L722.1,442.0 L722.0,442.2 L721.9,442.5 L721.9,442.7 L721.8,442.9 L721.6,443.2 L721.5,443.4 L721.3,443.6 L721.2,443.7 L721.0,443.9 L720.8,444.0 L720.6,444.1 L720.4,444.2 L720.2,444.3 L720.0,444.4 L719.7,444.4 L719.5,444.4 L719.3,444.4 L719.0,444.4 L718.8,444.3 L718.6,444.2 L718.4,444.1 L715.9,442.6 L715.7,442.5 L715.5,442.4 L715.3,442.2 L715.2,442.1 L715.0,441.9 L714.9,441.7 L714.8,441.4 L714.6,441.2 L714.6,441.0 L714.5,440.8 L714.4,440.5 L714.4,440.2Z" style="fill:#fff;"/>
<ellipse cx="719.5" cy="441.5" rx="2.6" ry="2.9" style="fill:#fff;"/>
<g transform="translate(0,0)">
<path d="M550.2,456.7 L552,448.9 C553,447 555,446 556.4,445.4 L561.6,442.7 C563,440 564,438 565.1,436.6 L571.2,431.4 L572.1,427 C573,425 574,425 574.7,425.2 L576.5,428.7 C578,428 580,428 580,428.7 C583,430 584,432 582.6,433.1 C582,436 581,437 580.9,437.5 L576.5,439.2 L567.7,444.5 L563.4,446.2 L573.9,453.2 L562.5,457.6 C562,460 561,461.5 560.7,462 C559,463 557,463 556.4,462.9 C553,462 551,460.5 551.1,460.2 Z" style="fill:#fff;"/>
<path d="M564.2,453.2 C565,452 566,451.5 566.9,451.5 L571.2,452.4 L576.5,455 L588.7,449.7 L594.9,446.2 L594.9,440.1 C595.5,438.5 597,438 597.5,438.4 L599.2,441.9 C601,441.5 602,442 602.7,442.7 C604.5,444 605,445 604.5,446.2 C604,448 603,449 601.9,449.7 L588.7,457.6 L577.4,462.9 L577.4,469 C576,471 575,471.6 573.9,471.6 C572,471.6 570.5,471.2 569.5,470.7 C567,469.5 566,468.5 566,468.1 L564.2,459.4 Z" style="fill:#fff;"/>
<path d="M588.7,449.7 L588.7,457.6"/>
<path d="M562.5,446.2 L566.9,444.5 L573.9,449 L573.9,453.2"/>
<ellipse cx="558.1" cy="450.6" rx="1.7" ry="2.2" style="fill:#fff;"/>
<ellipse cx="558.1" cy="458.5" rx="1.7" ry="2.2" style="fill:#fff;"/>
<ellipse cx="571.2" cy="457.6" rx="1.7" ry="2.2" style="fill:#fff;"/>
<ellipse cx="573.9" cy="467.2" rx="2.6" ry="2.8" style="fill:#fff;"/>
<ellipse cx="578.2" cy="433.1" rx="2.2" ry="2.6" style="fill:#fff;"/>
<ellipse cx="601.9" cy="446.2" rx="2" ry="2.6" style="fill:#fff;"/>
</g>
<path d="M577.7,473.0 L607.7,489.7 A1.4,2.6 29.1 0 0 610.3,485.1 L580.3,468.4 A1.4,2.6 29.1 0 0 577.7,473.0Z" style="fill:#fff;"/>
<ellipse cx="609" cy="487.4" rx="1.4" ry="2.6" transform="rotate(29.1 609 487.4)" style="fill:#fff;"/>
<path d="M605.4,470.3 L605.4,483" style="stroke-width:1.6;"/>
<path d="M604,447.5 L666,484 L730,447.5"/>
<g transform="translate(67.2,492.6)">
<path d="M11.7,-6.5 L11.7,-6.9 L11.8,-7.4 L11.8,-7.8 L11.9,-8.2 L12.0,-8.6 L12.1,-9.0 L12.3,-9.4 L12.5,-9.7 L12.7,-10.0 L12.9,-10.3 L13.1,-10.6 L13.3,-10.8 L13.6,-11.0 L13.9,-11.2 L14.2,-11.3 L14.4,-11.4 L14.7,-11.5 L15.0,-11.5 L15.3,-11.5 L15.6,-11.4 L15.8,-11.3 L16.1,-11.2 L20.6,-8.9 L20.9,-8.7 L21.1,-8.5 L21.4,-8.3 L21.6,-8.0 L21.8,-7.7 L22.0,-7.4 L22.2,-7.1 L22.4,-6.7 L22.5,-6.3 L22.6,-5.9 L22.7,-5.5 L22.8,-5.1 L22.8,-4.6 L22.8,-4.2 L22.8,-3.8 L22.8,-3.3 L22.7,-2.9 L22.6,-2.5 L22.5,-2.1 L22.4,-1.7 L22.2,-1.3 L22.0,-1.0 L21.8,-0.7 L21.6,-0.4 L21.4,-0.1 L21.1,0.1 L20.9,0.3 L20.6,0.5 L20.4,0.6 L20.1,0.7 L19.8,0.8 L19.5,0.8 L19.2,0.8 L18.9,0.7 L18.6,0.6 L18.4,0.5 L13.9,-1.8 L13.6,-2.0 L13.3,-2.2 L13.1,-2.4 L12.9,-2.7 L12.7,-3.0 L12.5,-3.3 L12.3,-3.6 L12.1,-4.0 L12.0,-4.4 L11.9,-4.8 L11.8,-5.2 L11.8,-5.6 L11.7,-6.1Z" style="fill:#fff;"/>
<ellipse cx="19.5" cy="-4.2" rx="3.3" ry="5" style="fill:#fff;"/>
<path d="M-3.5,2 C-4,-1 -3,-3 -1,-4 L10,-9.5 L14.5,-10.2 L17,-8 L18,-1 L8,6 C6,8 3,8.5 1.5,7.5 C-1,6 -3,4.5 -3.5,2 Z" style="fill:#fff;"/>
<path d="M-1,-4 L2,-1.5 L10,-6 L14.5,-10.2"/>
<path d="M2,-1.5 L3.5,1.5"/>
<path d="M9,-2.5 L12,-6.5 L12.5,-1 Z" style="fill:none;"/>
<ellipse cx="0" cy="0" rx="2" ry="1.6" style="fill:#fff;"/>
<ellipse cx="6.6" cy="4.4" rx="2.3" ry="1.8" style="fill:#fff;stroke-width:1.6;"/>
</g>
<ellipse cx="95.2" cy="480" rx="6.8" ry="8" style="fill:#fff;stroke-width:1.7;" transform="rotate(-15 95.2 480)"/>
<ellipse cx="95.7" cy="480" rx="4.3" ry="5.2" style="fill:none;" transform="rotate(-15 95.7 480)"/>
<path d="M92.7,476.5 L98.7,483.5"/>
<path d="M92.2,482.5 L98.7,477.5"/>
<path d="M91.5,510.6 L103.5,517.6 A1.7,3.0 30.3 0 0 106.5,512.4 L94.5,505.4 A1.7,3.0 30.3 0 0 91.5,510.6Z" style="fill:#fff;"/>
<ellipse cx="105" cy="515" rx="1.7" ry="3.0" transform="rotate(30.3 105 515)" style="fill:#fff;"/>
<g transform="translate(281.4,629.4)">
<path d="M11.7,-6.5 L11.7,-6.9 L11.8,-7.4 L11.8,-7.8 L11.9,-8.2 L12.0,-8.6 L12.1,-9.0 L12.3,-9.4 L12.5,-9.7 L12.7,-10.0 L12.9,-10.3 L13.1,-10.6 L13.3,-10.8 L13.6,-11.0 L13.9,-11.2 L14.2,-11.3 L14.4,-11.4 L14.7,-11.5 L15.0,-11.5 L15.3,-11.5 L15.6,-11.4 L15.8,-11.3 L16.1,-11.2 L20.6,-8.9 L20.9,-8.7 L21.1,-8.5 L21.4,-8.3 L21.6,-8.0 L21.8,-7.7 L22.0,-7.4 L22.2,-7.1 L22.4,-6.7 L22.5,-6.3 L22.6,-5.9 L22.7,-5.5 L22.8,-5.1 L22.8,-4.6 L22.8,-4.2 L22.8,-3.8 L22.8,-3.3 L22.7,-2.9 L22.6,-2.5 L22.5,-2.1 L22.4,-1.7 L22.2,-1.3 L22.0,-1.0 L21.8,-0.7 L21.6,-0.4 L21.4,-0.1 L21.1,0.1 L20.9,0.3 L20.6,0.5 L20.4,0.6 L20.1,0.7 L19.8,0.8 L19.5,0.8 L19.2,0.8 L18.9,0.7 L18.6,0.6 L18.4,0.5 L13.9,-1.8 L13.6,-2.0 L13.3,-2.2 L13.1,-2.4 L12.9,-2.7 L12.7,-3.0 L12.5,-3.3 L12.3,-3.6 L12.1,-4.0 L12.0,-4.4 L11.9,-4.8 L11.8,-5.2 L11.8,-5.6 L11.7,-6.1Z" style="fill:#fff;"/>
<ellipse cx="19.5" cy="-4.2" rx="3.3" ry="5" style="fill:#fff;"/>
<path d="M-3.5,2 C-4,-1 -3,-3 -1,-4 L10,-9.5 L14.5,-10.2 L17,-8 L18,-1 L8,6 C6,8 3,8.5 1.5,7.5 C-1,6 -3,4.5 -3.5,2 Z" style="fill:#fff;"/>
<path d="M-1,-4 L2,-1.5 L10,-6 L14.5,-10.2"/>
<path d="M2,-1.5 L3.5,1.5"/>
<path d="M9,-2.5 L12,-6.5 L12.5,-1 Z" style="fill:none;"/>
<ellipse cx="0" cy="0" rx="2" ry="1.6" style="fill:#fff;"/>
<ellipse cx="6.6" cy="4.4" rx="2.3" ry="1.8" style="fill:#fff;stroke-width:1.6;"/>
</g>
<ellipse cx="315" cy="613.2" rx="6.8" ry="8" style="fill:#fff;stroke-width:1.7;" transform="rotate(-15 315 613.2)"/>
<ellipse cx="315.5" cy="613.2" rx="4.3" ry="5.2" style="fill:none;" transform="rotate(-15 315.5 613.2)"/>
<path d="M312.5,609.7 L318.5,616.7"/>
<path d="M312,615.7 L318.5,610.7"/>
<path d="M308.3,647.5 L320.3,655.5 A1.7,3.0 33.7 0 0 323.7,650.5 L311.7,642.5 A1.7,3.0 33.7 0 0 308.3,647.5Z" style="fill:#fff;"/>
<ellipse cx="322" cy="653" rx="1.7" ry="3.0" transform="rotate(33.7 322 653)" style="fill:#fff;"/>
<ellipse cx="305" cy="642" rx="1.8" ry="2" style="fill:#fff;"/>
<ellipse cx="163.75" cy="463.75" rx="2.6" ry="3" style="fill:#fff;"/>
<path d="M166,462 L170,460.6" style="stroke-width:1.8;"/>
<path d="M112.9,558.0 L123.0,566.0 A1.4,2.6 38.4 0 0 126.2,562.0 L116.1,554.0 A1.4,2.6 38.4 0 0 112.9,558.0Z" style="fill:#fff;"/>
<ellipse cx="124.6" cy="564" rx="1.4" ry="2.6" transform="rotate(38.4 124.6 564)" style="fill:#fff;"/>
<path d="M199.6,609.7 L211.1,617.2 A1.4,2.6 33.1 0 0 213.9,612.8 L202.4,605.3 A1.4,2.6 33.1 0 0 199.6,609.7Z" style="fill:#fff;"/>
<ellipse cx="212.5" cy="615" rx="1.4" ry="2.6" transform="rotate(33.1 212.5 615)" style="fill:#fff;"/>
<path d="M131,573 C131,570 132,567 134,566 L145,557 L149,543 L152,533 C153,530 157,528.5 161,529.5 C164,530 167,532 167.5,535 L167,545 C166,548 163,550 161,551 L159,556 C159,559 158,561 155,562 L151,569 C150,572 148,574 145,575 L138,577 C134,577 131,576 131,573 Z" style="fill:#fff;"/>
<path d="M152,533 L149.5,545 L147,560 L141,568"/>
<ellipse cx="137" cy="572" rx="2.2" ry="2.2" style="fill:#fff;"/>
<ellipse cx="157" cy="556" rx="2" ry="2.2" style="fill:#fff;"/>
<path d="M253.0,584.6 L162.0,535.1 A3.4,6.2 -151.5 0 0 156.0,545.9 L247.0,595.4 A3.4,6.2 -151.5 0 0 253.0,584.6Z" style="fill:#fff;"/>
<ellipse cx="159" cy="540.5" rx="3.4" ry="6.2" transform="rotate(-151.5 159 540.5)" style="fill:#fff;"/>
<path d="M188,601 C187,597 190,593 196,591 L246,579 C250,578 254,580 256,583 L262,588 C265,590 266,596 262,598 L258,601 L259,610 C259,615 255,617 251,616 L247,612 L242,602 L200,607 C195,608 189,606 188,601 Z" style="fill:#fff;"/>
<path d="M202.5,596 L240,589 L241,599 L205,600 Z" style="fill:none;"/>
<path d="M244.6,587.5 L244.6,587.0 L244.7,586.5 L244.8,586.0 L244.9,585.5 L245.0,585.0 L245.2,584.5 L245.4,584.1 L245.6,583.6 L245.9,583.3 L246.2,582.9 L246.5,582.6 L246.8,582.3 L247.1,582.1 L247.5,581.9 L247.9,581.7 L248.2,581.6 L248.6,581.5 L249.0,581.5 L249.4,581.5 L249.8,581.6 L250.1,581.7 L250.5,581.9 L250.9,582.1 L262.9,589.6 L263.2,589.8 L263.5,590.1 L263.8,590.4 L264.1,590.8 L264.4,591.1 L264.6,591.6 L264.8,592.0 L265.0,592.5 L265.1,593.0 L265.2,593.5 L265.3,594.0 L265.4,594.5 L265.4,595.0 L265.4,595.5 L265.3,596.0 L265.2,596.5 L265.1,597.0 L265.0,597.5 L264.8,598.0 L264.6,598.4 L264.4,598.9 L264.1,599.2 L263.8,599.6 L263.5,599.9 L263.2,600.2 L262.9,600.4 L262.5,600.6 L262.1,600.8 L261.8,600.9 L261.4,601.0 L261.0,601.0 L260.6,601.0 L260.2,600.9 L259.9,600.8 L259.5,600.6 L259.1,600.4 L247.1,592.9 L246.8,592.7 L246.5,592.4 L246.2,592.1 L245.9,591.7 L245.6,591.4 L245.4,590.9 L245.2,590.5 L245.0,590.0 L244.9,589.5 L244.8,589.0 L244.7,588.5 L244.6,588.0Z" style="fill:#fff;"/>
<ellipse cx="261" cy="595" rx="4.4" ry="6" style="fill:#fff;"/>
<ellipse cx="261" cy="595" rx="2.4" ry="3.2" style="fill:none;"/>
<ellipse cx="192.5" cy="602.5" rx="2.3" ry="2.3" style="fill:#fff;"/>
<ellipse cx="254" cy="613" rx="2.2" ry="2.2" style="fill:#fff;"/>
<text transform="translate(118.6,243.7) scale(0.72,1)" x="-0.3" y="0" letter-spacing="1.7">216</text>
<text transform="translate(139.6,254.3) scale(0.72,1)" x="-0.3" y="0" letter-spacing="1.7">226</text>
<text transform="translate(160.5,266) scale(0.72,1)" x="-0.3" y="0" letter-spacing="1.7">217</text>
<text transform="translate(182,277) scale(0.72,1)" x="-0.3" y="0" letter-spacing="1.7">218</text>
<text transform="translate(211,295) scale(0.72,1)" x="-0.3" y="0" letter-spacing="1.7">225</text>
<text transform="translate(235.5,305) scale(0.72,1)" x="-0.3" y="0" letter-spacing="1.7">218</text>
<text transform="translate(256,314) scale(0.72,1)" x="-0.3" y="0" letter-spacing="1.7">217</text>
<text transform="translate(270,330) scale(0.72,1)" x="-0.3" y="0" letter-spacing="1.7">224</text>
<text transform="translate(296,349) scale(0.72,1)" x="-0.3" y="0" letter-spacing="1.7">213</text>
<text transform="translate(356,320) scale(0.72,1)" x="-0.3" y="0" letter-spacing="1.7">214</text>
<text transform="translate(186,346) scale(0.72,1)" x="-0.3" y="0" letter-spacing="1.7">211</text>
<text transform="translate(160,379) scale(0.72,1)" x="-0.3" y="0" letter-spacing="1.7">201</text>
<text transform="translate(182.5,404.5) scale(0.72,1)" x="-0.3" y="0" letter-spacing="1.7">206</text>
<text transform="translate(325,472) scale(0.72,1)" x="-0.3" y="0" letter-spacing="1.7">206</text>
<text transform="translate(113.75,405.8) scale(0.72,1)" x="-0.3" y="0" letter-spacing="1.7">210</text>
<text transform="translate(84,423) scale(0.72,1)" x="-0.3" y="0" letter-spacing="1.7">202</text>
<text transform="translate(66,439) scale(0.72,1)" x="-0.3" y="0" letter-spacing="1.7">227</text>
<text transform="translate(42,455) scale(0.72,1)" x="-0.3" y="0" letter-spacing="1.7">207</text>
<text transform="translate(54,520) scale(0.72,1)" x="-0.3" y="0" letter-spacing="1.7">208</text>
<text transform="translate(75,533) scale(0.72,1)" x="-0.3" y="0" letter-spacing="1.7">209</text>
<text transform="translate(77.5,570) scale(0.72,1)" x="-0.3" y="0" letter-spacing="1.7">203</text>
<text transform="translate(98.75,584) scale(0.72,1)" x="-0.3" y="0" letter-spacing="1.7">204</text>
<text transform="translate(140.4,607.75) scale(0.72,1)" x="-0.3" y="0" letter-spacing="1.7">205</text>
<text transform="translate(177.5,631) scale(0.72,1)" x="-0.3" y="0" letter-spacing="1.7">203</text>
<text transform="translate(234,661) scale(0.72,1)" x="-0.3" y="0" letter-spacing="1.7">207</text>
<text transform="translate(266,669) scale(0.72,1)" x="-0.3" y="0" letter-spacing="1.7">208</text>
<text transform="translate(296,676) scale(0.72,1)" x="-0.3" y="0" letter-spacing="1.7">209</text>
<text transform="translate(350,645) scale(0.72,1)" x="-0.3" y="0" letter-spacing="1.7">227</text>
<text transform="translate(449.5,581) scale(0.72,1)" x="-0.3" y="0" letter-spacing="1.7">210</text>
<text transform="translate(515.5,478.4) scale(0.72,1)" x="-0.3" y="0" letter-spacing="1.7">212</text>
<text transform="translate(549,497.5) scale(0.72,1)" x="-0.3" y="0" letter-spacing="1.7">213</text>
<text transform="translate(565,515) scale(0.72,1)" x="-0.3" y="0" letter-spacing="1.7">211</text>
<text transform="translate(439.5,254.5) scale(0.72,1)" x="-0.3" y="0" letter-spacing="1.7">223</text>
<text transform="translate(463,267.5) scale(0.72,1)" x="-0.3" y="0" letter-spacing="1.7">222</text>
<text transform="translate(483,281) scale(0.72,1)" x="-0.3" y="0" letter-spacing="1.7">221</text>
<text transform="translate(543.5,314.5) scale(0.72,1)" x="-0.3" y="0" letter-spacing="1.7">223</text>
<text transform="translate(567,326.5) scale(0.72,1)" x="-0.3" y="0" letter-spacing="1.7">222</text>
<text transform="translate(588,338.5) scale(0.72,1)" x="-0.3" y="0" letter-spacing="1.7">221</text>
<text transform="translate(570,417.5) scale(0.72,1)" x="-0.3" y="0" letter-spacing="1.7">217</text>
<text transform="translate(564,373.5) scale(0.72,1)" x="-0.3" y="0" letter-spacing="1.7">217</text>
<text transform="translate(618.75,346) scale(0.72,1)" x="-0.3" y="0" letter-spacing="1.7">216</text>
<text transform="translate(642,355) scale(0.72,1)" x="-0.3" y="0" letter-spacing="1.7">215</text>
<text transform="translate(664,360) scale(0.72,1)" x="-0.3" y="0" letter-spacing="1.7">217</text>
<text transform="translate(662.5,376) scale(0.72,1)" x="-0.3" y="0" letter-spacing="1.7">220</text>
<text transform="translate(685,382.5) scale(0.72,1)" x="-0.3" y="0" letter-spacing="1.7">218</text>
<text transform="translate(702.5,395) scale(0.72,1)" x="-0.3" y="0" letter-spacing="1.7">219</text>
<text transform="translate(721,405) scale(0.72,1)" x="-0.3" y="0" letter-spacing="1.7">218</text>
<text transform="translate(740,410) scale(0.72,1)" x="-0.3" y="0" letter-spacing="1.7">217</text>
<text transform="translate(746,426) scale(0.72,1)" x="-0.3" y="0" letter-spacing="1.7">216</text>
<text transform="translate(729,471) scale(0.72,1)" x="-0.3" y="0" letter-spacing="1.7">215</text>
<text transform="translate(694,489) scale(0.72,1)" x="-0.3" y="0" letter-spacing="1.7">216</text>
<text transform="translate(661,476) scale(0.72,1)" x="-0.3" y="0" letter-spacing="1.7">217</text>
<text transform="translate(641,466) scale(0.72,1)" x="-0.3" y="0" letter-spacing="1.7">218</text>
<text transform="translate(624,454) scale(0.72,1)" x="-0.3" y="0" letter-spacing="1.7">219</text>
<text transform="translate(606,442.5) scale(0.72,1)" x="-0.3" y="0" letter-spacing="1.7">218</text>
<text transform="translate(587.5,431) scale(0.72,1)" x="-0.3" y="0" letter-spacing="1.7">220</text>
<text transform="translate(615,477.5) scale(0.72,1)" x="-0.3" y="0" letter-spacing="1.7">214</text>
<path d="M137.5,235.5 L193,205"/>
<path d="M161,243.75 L203,220"/>
<path d="M182.5,253.75 L220,230"/>
<path d="M202.5,263.75 L236,243.75"/>
<path d="M231,283.75 L268.75,262.5"/>
<path d="M256,293.75 L290,276"/>
<path d="M272,299 L305,280"/>
<path d="M286,317.5 L295.6,312"/>
<path d="M315,337.5 L327.5,330"/>
<path d="M358.75,320 L351,326"/>
<path d="M205,340 L243.75,340"/>
<path d="M180,379 L250,420"/>
<path d="M192.5,408 L192.5,435"/>
<path d="M334,475 L334,516"/>
<path d="M130,407 L171,430"/>
<path d="M100,423.75 L162.5,460"/>
<path d="M82,442 L91,470"/>
<path d="M57,459 L67,486"/>
<path d="M75,515 L80,513"/>
<path d="M88,522 L101,514"/>
<path d="M97.5,565 L114,561"/>
<path d="M120,575 L132.5,570.6"/>
<path d="M157,594 L231.5,546"/>
<path d="M192.5,620 L214,614"/>
<path d="M251,650 L279,632.5"/>
<path d="M307,664 L318,654"/>
<path d="M345,631 L325,620"/>
<path d="M426,556 L449,570"/>
<path d="M534.3,468.3 L552.5,460"/>
<path d="M567.5,485 L582.5,477.5"/>
<path d="M551,511 L565,507"/>
<path d="M449.5,255.5 L440,268.5"/>
<path d="M466,267.5 L455.5,273.5"/>
<path d="M483,275.5 L467,285.5"/>
<path d="M550,316.5 L544.5,329"/>
<path d="M572,326.5 L561,333"/>
<path d="M587.5,336 L572,345"/>
<path d="M630,349 L621,361"/>
<path d="M642.5,356 L626,370"/>
<path d="M665,361 L634,379"/>
<path d="M665,377.5 L650,386"/>
<path d="M685,384 L667.5,396"/>
<path d="M702.5,395 L692.5,402.5"/>
<path d="M722.5,405 L710,420"/>
<path d="M742.5,410 L717.5,430"/>
<path d="M746,422.5 L727.5,425"/>
<path d="M734,459 L720,442.5"/>
<path d="M700,477.5 L700,434"/>
<path d="M679,465 L690,451"/>
<path d="M661,456 L676,446"/>
<path d="M640,444 L652.5,435"/>
<path d="M621,434 L634,425"/>
<path d="M604,419 L616,411"/>
<path d="M615,474 L607.5,476"/>
<path d="M584,368 L601,372.5"/>
<path d="M588,408 L600,399.5"/>
<path d="M97,494 L116,509 L84,546 L65,531 Z" style="stroke:#16963f;stroke-width:2.5;fill:none"/>
<path d="M324,634 L345,669 L301,693 L281,658 Z" style="stroke:#16963f;stroke-width:2.5;fill:none"/>
</g>
</svg>
</body></html>
